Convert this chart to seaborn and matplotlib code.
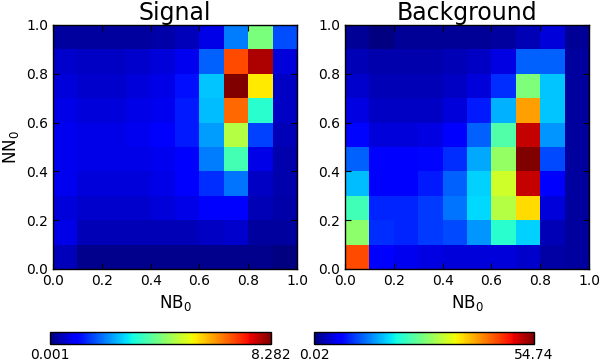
import matplotlib
matplotlib.use("Agg")
import matplotlib.pyplot as plt
import numpy as np
import seaborn as sns

# 10x10 bins, rows listed from top (NN0 0.9-1.0) down to bottom (NN0 0.0-0.1)
tick_labels = ["0.0", "0.2", "0.4", "0.6", "0.8", "1.0"]

sig_min, sig_max = 0.001, 8.282
signal = [
    [0.25, 0.25, 0.25, 0.25, 0.30, 0.45, 0.75, 2.07, 4.14, 1.66],
    [0.58, 0.50, 0.50, 0.58, 0.66, 0.83, 1.82, 6.87, 7.95, 0.66],
    [0.66, 0.58, 0.58, 0.66, 0.75, 1.16, 2.65, 8.282, 5.47, 0.50],
    [0.75, 0.66, 0.66, 0.75, 0.83, 1.24, 2.57, 6.63, 3.31, 0.50],
    [0.83, 0.75, 0.75, 0.83, 0.91, 1.24, 2.32, 4.72, 1.57, 0.41],
    [0.83, 0.75, 0.75, 0.75, 0.83, 0.99, 2.07, 3.56, 0.75, 0.33],
    [0.83, 0.66, 0.66, 0.66, 0.75, 0.91, 1.41, 1.99, 0.50, 0.33],
    [0.66, 0.58, 0.58, 0.58, 0.66, 0.75, 0.99, 0.99, 0.41, 0.30],
    [0.75, 0.41, 0.41, 0.41, 0.41, 0.41, 0.50, 0.58, 0.25, 0.25],
    [0.45, 0.12, 0.12, 0.12, 0.12, 0.12, 0.12, 0.12, 0.10, 0.001],
]

bkg_min, bkg_max = 0.02, 54.74
background = [
    [1.3, 0.02, 1.1, 1.1, 1.1, 1.2, 1.6, 2.7, 4.4, 1.3],
    [2.7, 2.2, 2.2, 2.2, 2.7, 3.3, 4.9, 12.0, 12.0, 1.6],
    [3.8, 2.7, 2.7, 2.7, 3.3, 4.4, 9.3, 27.4, 17.5, 1.6],
    [4.9, 3.3, 3.3, 3.3, 4.4, 8.2, 16.4, 40.5, 17.5, 1.6],
    [7.1, 4.4, 4.4, 4.9, 6.6, 12.0, 24.6, 51.5, 14.8, 1.6],
    [12.0, 6.6, 6.6, 7.1, 9.3, 15.9, 29.0, 54.74, 10.9, 1.6],
    [17.0, 6.6, 6.6, 8.2, 12.0, 18.1, 32.8, 51.5, 6.6, 1.6],
    [23.5, 8.8, 8.8, 9.9, 13.1, 18.6, 31.2, 37.2, 4.4, 1.6],
    [28.5, 9.3, 8.8, 9.9, 10.9, 14.8, 21.9, 18.1, 2.7, 1.6],
    [45.4, 6.6, 5.5, 4.9, 4.4, 4.4, 4.4, 3.8, 1.9, 1.6],
]

plt.rcParams["font.family"] = ["DejaVu Sans"]
plt.rcParams["xtick.direction"] = "in"
plt.rcParams["ytick.direction"] = "in"
plt.rcParams["xtick.top"] = True
plt.rcParams["ytick.right"] = True

W, H = 612, 362
fig = plt.figure(figsize=(W / 100, H / 100), dpi=100)


def px(x0, y0, w, h):
    return [x0 / W, 1 - (y0 + h) / H, w / W, h / H]


panels = [
    ("Signal", signal, sig_min, sig_max, "0.001", "8.282", px(53, 25, 244, 244), px(50, 332, 221, 12)),
    ("Background", background, bkg_min, bkg_max, "0.02", "54.74", px(345, 25, 244, 244), px(314, 332, 220, 12)),
]

for i, (title, grid, vmin, vmax, lo_lab, hi_lab, ax_rect, cb_rect) in enumerate(panels):
    ax = fig.add_axes(ax_rect)
    cax = fig.add_axes(cb_rect)
    sns.heatmap(
        np.array(grid), ax=ax, cmap="jet", vmin=vmin, vmax=vmax,
        cbar_ax=cax, cbar_kws={"orientation": "horizontal"},
        xticklabels=False, yticklabels=False,
    )
    ax.set_xticks(np.arange(0, 11, 2))
    ax.set_xticklabels(tick_labels, fontsize=10)
    ax.set_yticks(np.arange(0, 11, 2))
    ax.set_yticklabels(tick_labels[::-1], fontsize=10, rotation=0)
    ax.tick_params(length=4, width=0.8, color="black", top=True, right=True, direction="in")
    for s in ax.spines.values():
        s.set_visible(True)
        s.set_color("black")
        s.set_linewidth(1)
    ax.set_title(title, fontsize=17, pad=3)
    ax.set_xlabel("NB$_0$", fontsize=12)
    if i == 0:
        ax.set_ylabel("NN$_0$", fontsize=12)

    cbar = ax.collections[0].colorbar
    cbar.set_ticks([vmin, vmax])
    cbar.set_ticklabels([lo_lab, hi_lab])
    cbar.outline.set_visible(True)
    cbar.outline.set_edgecolor("black")
    cbar.outline.set_linewidth(1)
    cax.tick_params(length=0, labelsize=10, pad=3)

fig.savefig("out.png", dpi=100)
